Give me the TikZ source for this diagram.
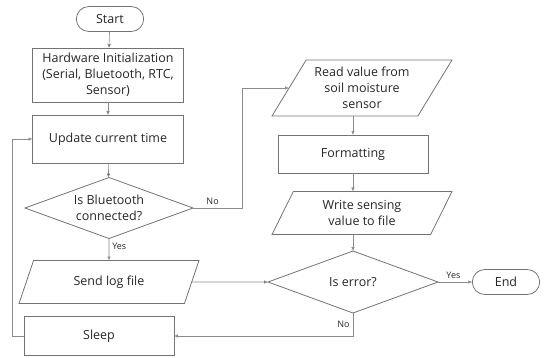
\documentclass[tikz,border=0pt]{standalone}
\usepackage{fontspec}
\setmainfont{Open Sans}
\usetikzlibrary{shapes.geometric,shapes.misc,arrows.meta}
\begin{document}
\begin{tikzpicture}[x=1pt, y=-1pt, font=\fontsize{12.5}{16}\selectfont, >={Latex[length=4pt,width=3.5pt]},
every node/.style={text=black!85, outer sep=0pt},
term node/.style={rounded rectangle, draw=black!55, line width=0.8pt, minimum width=74pt, minimum height=25pt},
proc node/.style={rectangle, draw=black!55, line width=0.8pt, align=center, minimum width=151pt},
io node/.style={trapezium, trapezium left angle=52, trapezium right angle=128, trapezium stretches body, draw=black!55, line width=0.8pt, align=center, minimum width=180pt, inner sep=1pt},
cond node/.style={diamond, aspect=2.75, draw=black!55, line width=0.8pt, align=center, inner sep=0pt},
line/.style={draw=black!45, line width=0.6pt, ->},
lbl/.style={font=\fontsize{9}{10}\selectfont}]
\useasboundingbox (0,0) rectangle (549,357);
\node[term node] (start) at (110,19) {Start};
\node[proc node, minimum height=54pt] (hw) at (108,75) {Hardware Initialization\\(Serial, Bluetooth, RTC,\\Sensor)};
\node[proc node, minimum height=48pt] (upd) at (108,139) {Update current time};
\node[cond node, minimum width=168pt, minimum height=61pt] (bt) at (109,208) {Is Bluetooth\\connected?};
\node[io node, trapezium left angle=45, trapezium right angle=135, minimum height=43pt] (send) at (109,282) {Send log file};
\node[proc node, minimum width=150pt, minimum height=39pt] (sleep) at (99,336) {Sleep};
\node[io node, minimum height=56pt] (read) at (362,88) {Read value from\\soil moisture\\sensor};
\node[proc node, minimum width=150pt, minimum height=38pt] (fmt) at (353,154) {Formatting};
\node[io node, minimum height=43pt] (write) at (362,213) {Write sensing\\value to file};
\node[cond node, minimum width=170pt, minimum height=62pt] (err) at (353,282) {Is error?};
\node[term node] (end) at (506,282) {End};
\coordinate (noturn) at (242,208);
\coordinate (loop) at (12,0);
\draw[line] (start) edge (hw);
\draw[line] (hw) edge (upd);
\draw[line] (upd) edge (bt);
\draw[line] (bt.south) -- node[lbl, right, pos=0.35] (yes1) {Yes} (send.north);
\draw[line] (bt.east) -- node[lbl, above, pos=0.4] (no1) {No} (noturn) |- (read.west);
\draw[line] (send) edge (err);
\draw[line] (fmt.north |- read.south) -- (fmt.north);
\draw[line] (fmt.south) -- (fmt.south |- write.north);
\draw[line] (err.north |- write.south) -- (err.north);
\draw[line] (err.east) -- node[lbl, above, pos=0.45] (yes2) {Yes} (end.west);
\draw[line] (err.south) |- node[lbl, left, pos=0.25] (no2) {No} (sleep.east);
\draw[line] (sleep.west) -- (sleep.west -| loop) |- (upd.west);
\end{tikzpicture}
\end{document}
